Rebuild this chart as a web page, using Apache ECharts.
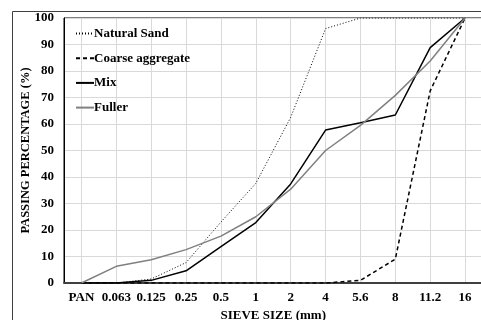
<!DOCTYPE html>
<html>
<head>
<meta charset="utf-8">
<script src="https://cdn.jsdelivr.net/npm/echarts@6/dist/echarts.min.js"></script>
<style>
  html, body { margin: 0; padding: 0; background: #fff; }
  #chart { width: 481px; height: 320px; }
</style>
</head>
<body>
<div id="chart"></div>
<script>
const sieveSizes = ['PAN', '0.063', '0.125', '0.25', '0.5', '1', '2', '4', '5.6', '8', '11.2', '16']
const naturalSand = [0, 0, 1.5, 7.7, 23, 37.6, 62.5, 96, 100, 100, 100, 100]
const coarseAggregate = [0, 0, 0, 0, 0, 0, 0, 0, 1, 9, 72.5, 100]
const mix = [0, 0, 1, 4.6, 13.7, 22.8, 37.4, 57.7, 60.5, 63.4, 88.8, 100]
const fuller = [0, 6.3, 8.8, 12.6, 17.7, 25, 35.4, 50, 59.5, 70.8, 83.8, 100]

const FONT = '"Liberation Serif", "Times New Roman", serif'

const chart = echarts.init(document.getElementById('chart'))

const line = (name, data, color, width, type) => ({
  name,
  type: 'line',
  data,
  symbol: 'none',
  showSymbol: false,
  lineStyle: { color, width, type },
  itemStyle: { color }
})

chart.setOption({
  animation: false,
  graphic: [{
    type: 'rect',
    shape: { x: 12.5, y: 11.5, width: 600, height: 400 },
    style: { fill: 'none', stroke: '#404040', lineWidth: 1 },
    silent: true
  }],
  grid: {
    left: 64, top: 18, right: -1.5, bottom: 37,
    outerBoundsMode: 'none',
    containLabel: false,
    show: true, borderColor: '#000', borderWidth: 1, backgroundColor: 'transparent'
  },
  legend: {
    orient: 'vertical',
    left: 70, top: 22,
    itemWidth: 18, itemHeight: 12, itemGap: 11.7,
    itemStyle: { opacity: 0 },
    textStyle: { fontFamily: FONT, fontWeight: 'bold', fontSize: 13, color: '#000', padding: [0, 0, 0, -5] },
    data: ['Natural Sand', 'Coarse aggregate', 'Mix', 'Fuller']
  },
  xAxis: {
    type: 'category',
    data: sieveSizes,
    boundaryGap: true,
    name: 'SIEVE SIZE (mm)',
    nameLocation: 'middle',
    nameGap: 23,
    nameTextStyle: { fontFamily: FONT, fontWeight: 'bold', fontSize: 13, color: '#000' },
    axisLine: { show: true, lineStyle: { color: '#404040', width: 2 } },
    axisTick: { show: false, alignWithLabel: true },
    axisLabel: { fontFamily: FONT, fontWeight: 'bold', fontSize: 13, color: '#000', margin: 8, interval: 0 },
    splitLine: { show: true, alignWithLabel: true, lineStyle: { color: '#d9d9d9', width: 1 } }
  },
  yAxis: {
    type: 'value',
    min: 0, max: 100, interval: 10,
    name: 'PASSING PERCENTAGE (%)',
    nameLocation: 'middle',
    nameGap: 32,
    nameMoveOverlap: false,
    nameTextStyle: { fontFamily: FONT, fontWeight: 'bold', fontSize: 12.5, color: '#000' },
    axisLine: { show: true, lineStyle: { color: '#000', width: 1 } },
    axisTick: { show: false },
    axisLabel: { fontFamily: FONT, fontWeight: 'bold', fontSize: 13, color: '#000', margin: 10 },
    splitLine: { show: true, lineStyle: { color: '#d9d9d9', width: 1 } }
  },
  series: [
    line('Natural Sand', naturalSand, '#000', 1, [1, 2]),
    line('Coarse aggregate', coarseAggregate, '#000', 1.5, [4, 3]),
    line('Mix', mix, '#000', 1.5, 'solid'),
    line('Fuller', fuller, '#808080', 1.5, 'solid')
  ]
})
</script>
</body>
</html>
